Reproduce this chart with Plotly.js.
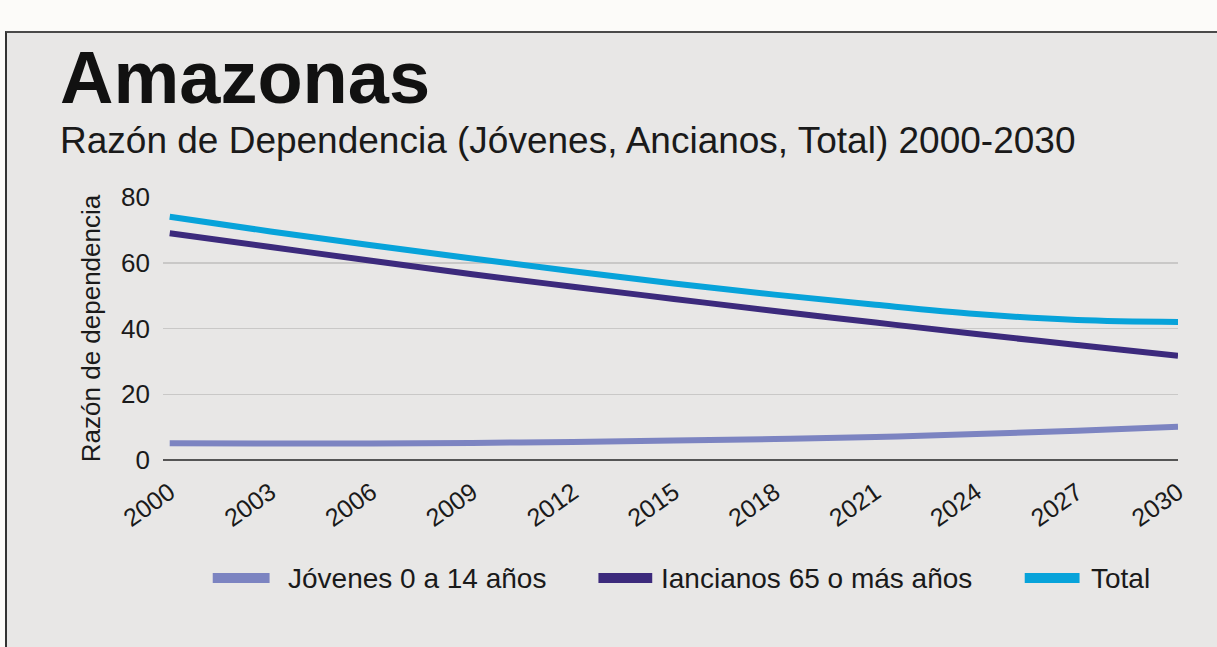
<!DOCTYPE html>
<html>
<head>
<meta charset="utf-8">
<script src="https://cdn.plot.ly/plotly-3.0.1.min.js"></script>
<style>
  html, body { margin: 0; padding: 0; background: #fcfbf9; width: 1217px; height: 647px; overflow: hidden; }
  #frame { position: absolute; left: 5px; top: 31px; width: 1212px; height: 616px; box-sizing: border-box;
           border-top: 2px solid #4a4a4a; border-left: 2px solid #333; background: #e8e7e6; }
  #chart { width: 1210px; height: 614px; }
</style>
</head>
<body>
<div id="frame"><div id="chart"></div></div>
<script>
// ---- Data ----
const years = [2000, 2003, 2006, 2009, 2012, 2015, 2018, 2021, 2024, 2027, 2030];
const jovenes = [5.1, 5.0, 5.0, 5.2, 5.5, 5.9, 6.4, 7.0, 7.9, 8.9, 10.1];
const ancianos = [69.0, 64.8, 60.6, 56.5, 52.7, 49.0, 45.3, 41.8, 38.3, 35.0, 31.7];
const total = [74.0, 69.5, 65.3, 61.3, 57.4, 53.7, 50.3, 47.2, 44.4, 42.6, 42.0];
const seriesNames = ["Jóvenes 0 a 14 años", "Iancianos 65 o más años", "Total"];
const yTicks = [0, 20, 40, 60, 80];
const titleText = "Amazonas";
const subtitleText = "Razón de Dependencia (Jóvenes, Ancianos, Total) 2000-2030";
const yTitle = "Razón de dependencia";

const colors = ["#7c84c1", "#3c2a7c", "#07a3da"];
const FONT = "Liberation Sans, Arial, Helvetica, sans-serif";

const seriesValues = [jovenes, ancianos, total];
const traces = seriesValues.map((vals, i) => ({
  type: "scatter", mode: "lines", x: years, y: vals, name: seriesNames[i],
  line: { color: colors[i], width: 6, shape: "spline", smoothing: 1 },
  showlegend: false, hoverinfo: "x+y+name"
}));

// custom legend (wide swatches like the original)
const legendY = -0.449;
const swatchX = [[0.049, 0.105], [0.429, 0.482], [0.849, 0.903]];
const textX = [0.121, 0.489, 0.912];
const shapes = swatchX.map((s, i) => ({
  type: "line", xref: "paper", yref: "paper", x0: s[0], x1: s[1], y0: legendY, y1: legendY,
  line: { color: colors[i], width: 10 }
}));
const annotations = seriesNames.map((n, i) => ({
  xref: "paper", yref: "paper", x: textX[i], y: legendY, xanchor: "left", yanchor: "middle",
  text: n, showarrow: false, font: { family: FONT, size: 28, color: "#1a1a1a" }
}));
annotations.push({
  xref: "paper", yref: "paper", x: -0.103, y: 1.455, xanchor: "left", yanchor: "middle",
  text: "<b>" + titleText + "</b>", showarrow: false,
  font: { family: FONT, size: 74, color: "#111" }
});
annotations.push({
  xref: "paper", yref: "paper", x: -0.103, y: 1.216, xanchor: "left", yanchor: "middle",
  text: subtitleText, showarrow: false,
  font: { family: FONT, size: 37, color: "#1a1a1a" }
});

const layout = {
  width: 1210, height: 614,
  margin: { l: 156, r: 39, t: 164, b: 187 },
  paper_bgcolor: "#e8e7e6", plot_bgcolor: "#e8e7e6",
  showlegend: false,
  xaxis: {
    range: [1999.8, 2030], tickmode: "array", tickvals: years, ticktext: years.map(String),
    tickangle: -35, showgrid: false, zeroline: false, showline: false, ticks: "",
    ticklabelstandoff: 12,
    tickfont: { family: FONT, size: 25, color: "#1a1a1a" }, fixedrange: true
  },
  yaxis: {
    range: [0, 80], tickmode: "array", tickvals: yTicks, showgrid: true,
    gridcolor: "#c9c8c7", gridwidth: 1.5, zeroline: true, zerolinecolor: "#555", zerolinewidth: 2.5,
    showline: false, ticks: "", ticklabelstandoff: 12,
    tickfont: { family: FONT, size: 26, color: "#1a1a1a" },
    title: { text: yTitle, standoff: 12, font: { family: FONT, size: 26, color: "#1a1a1a" } },
    fixedrange: true
  },
  shapes: shapes,
  annotations: annotations
};

Plotly.newPlot("chart", traces, layout, { displayModeBar: false, staticPlot: true });
</script>
</body>
</html>
